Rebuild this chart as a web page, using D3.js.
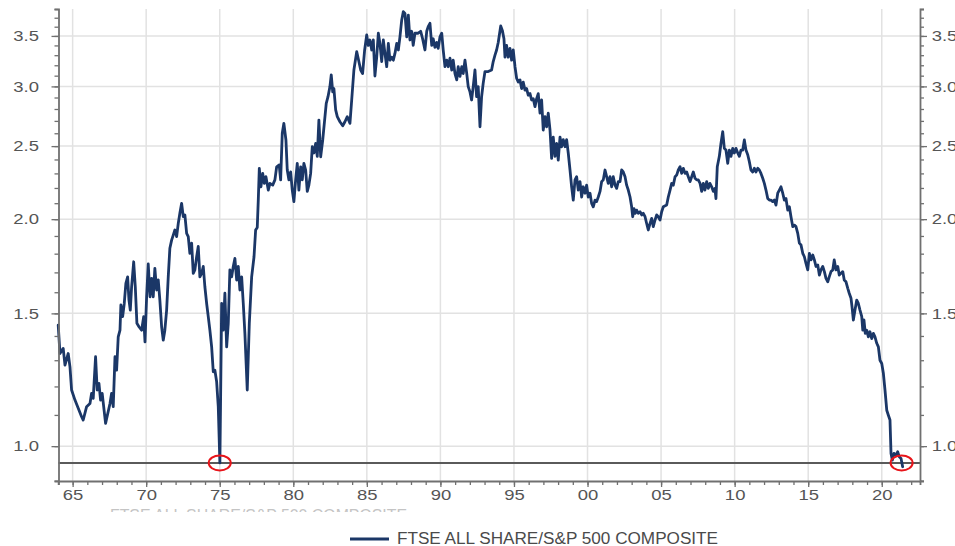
<!DOCTYPE html>
<html><head><meta charset="utf-8">
<script src="https://cdn.jsdelivr.net/npm/d3@7"></script>
<style>html,body{margin:0;padding:0;background:#fff;}svg{display:block;}</style>
</head><body>
<svg id="chart" width="955" height="546"></svg>
<script>
// ---- data ----
const dates = [
1964.02,1964.14,1964.36,1964.48,1964.70,1964.82,1964.93,1965.16,1965.61,1965.72,
1965.95,1966.18,1966.29,1966.40,1966.56,1966.67,1966.79,1966.90,1967.01,1967.24,
1967.54,1967.65,1967.76,1967.88,1967.99,1968.10,1968.22,1968.28,1968.40,1968.51,
1968.62,1968.74,1968.83,1968.92,1969.01,1969.15,1969.26,1969.37,1969.51,1969.69,
1969.83,1969.92,1970.03,1970.14,1970.26,1970.37,1970.48,1970.59,1970.71,1970.82,
1970.93,1971.05,1971.16,1971.27,1971.39,1971.50,1971.61,1971.73,1971.84,1971.95,
1972.07,1972.18,1972.29,1972.41,1972.52,1972.63,1972.75,1972.86,1972.97,1973.09,
1973.20,1973.31,1973.43,1973.54,1973.65,1973.77,1973.88,1973.99,1974.11,1974.22,
1974.33,1974.45,1974.56,1974.67,1974.79,1974.90,1975.01,1975.13,1975.24,1975.35,
1975.47,1975.58,1975.69,1975.81,1975.92,1976.03,1976.15,1976.26,1976.37,1976.49,
1976.60,1976.71,1976.87,1977.01,1977.17,1977.33,1977.44,1977.55,1977.62,1977.69,
1977.80,1977.92,1978.03,1978.14,1978.30,1978.41,1978.60,1978.75,1978.87,1979.04,
1979.14,1979.25,1979.36,1979.50,1979.59,1979.70,1979.82,1979.93,1980.04,1980.16,
1980.27,1980.38,1980.50,1980.61,1980.72,1980.84,1980.95,1981.06,1981.18,1981.29,
1981.40,1981.52,1981.63,1981.74,1981.86,1982.00,1982.13,1982.24,1982.36,1982.49,
1982.58,1982.68,1982.76,1982.88,1982.99,1983.17,1983.36,1983.51,1983.67,1983.85,
1983.97,1984.12,1984.31,1984.44,1984.58,1984.71,1984.85,1984.99,1985.10,1985.21,
1985.33,1985.44,1985.55,1985.67,1985.78,1985.89,1986.01,1986.12,1986.23,1986.35,
1986.46,1986.57,1986.69,1986.80,1986.91,1987.03,1987.14,1987.25,1987.37,1987.48,
1987.59,1987.71,1987.82,1987.93,1988.05,1988.15,1988.27,1988.49,1988.66,1988.79,
1988.95,1989.07,1989.17,1989.29,1989.41,1989.51,1989.63,1989.75,1989.85,1989.97,
1990.09,1990.19,1990.31,1990.43,1990.53,1990.65,1990.77,1990.87,1990.99,1991.11,
1991.21,1991.33,1991.45,1991.55,1991.67,1991.79,1991.89,1992.01,1992.12,1992.23,
1992.35,1992.46,1992.57,1992.69,1992.80,1992.91,1993.03,1993.25,1993.48,1993.59,
1993.71,1993.82,1993.93,1994.10,1994.21,1994.32,1994.39,1994.50,1994.61,1994.73,
1994.84,1994.95,1995.07,1995.18,1995.29,1995.41,1995.52,1995.63,1995.75,1995.86,
1995.97,1996.09,1996.20,1996.31,1996.43,1996.54,1996.65,1996.77,1996.88,1996.99,
1997.11,1997.22,1997.33,1997.45,1997.56,1997.67,1997.79,1997.90,1998.01,1998.13,
1998.24,1998.35,1998.47,1998.58,1998.69,1998.81,1998.92,1999.03,1999.15,1999.26,
1999.37,1999.49,1999.60,1999.71,1999.83,1999.94,2000.05,2000.17,2000.28,2000.39,
2000.51,2000.62,2000.73,2000.85,2000.96,2001.07,2001.19,2001.30,2001.41,2001.53,
2001.64,2001.75,2001.87,2001.98,2002.09,2002.21,2002.32,2002.43,2002.55,2002.66,
2002.77,2002.89,2003.00,2003.07,2003.16,2003.25,2003.34,2003.45,2003.57,2003.68,
2003.79,2003.91,2004.02,2004.13,2004.25,2004.36,2004.47,2004.59,2004.70,2004.81,
2004.93,2005.04,2005.15,2005.38,2005.49,2005.61,2005.72,2005.83,2005.95,2006.06,
2006.17,2006.29,2006.40,2006.51,2006.63,2006.74,2006.85,2006.97,2007.08,2007.19,
2007.31,2007.42,2007.53,2007.65,2007.76,2007.87,2007.98,2008.10,2008.21,2008.32,
2008.44,2008.55,2008.66,2008.73,2008.82,2008.96,2009.07,2009.19,2009.30,2009.41,
2009.53,2009.64,2009.75,2009.87,2009.98,2010.09,2010.21,2010.32,2010.43,2010.55,
2010.66,2010.77,2010.89,2011.00,2011.11,2011.23,2011.34,2011.45,2011.57,2011.68,
2011.79,2011.91,2012.02,2012.13,2012.25,2012.36,2012.47,2012.59,2012.70,2012.81,
2012.93,2013.04,2013.15,2013.27,2013.38,2013.49,2013.61,2013.72,2013.83,2013.95,
2014.06,2014.17,2014.29,2014.40,2014.51,2014.63,2014.74,2014.85,2014.97,2015.08,
2015.19,2015.31,2015.42,2015.53,2015.65,2015.76,2015.87,2015.99,2016.10,2016.21,
2016.33,2016.43,2016.55,2016.67,2016.77,2016.89,2017.01,2017.11,2017.23,2017.35,
2017.45,2017.57,2017.69,2017.79,2017.91,2017.98,2018.07,2018.18,2018.30,2018.41,
2018.52,2018.64,2018.71,2018.79,2018.88,2018.98,2019.09,2019.20,2019.32,2019.43,
2019.54,2019.66,2019.77,2019.88,2020.00,2020.11,2020.22,2020.34,2020.45,2020.56,
2020.63,2020.72,2020.83,2020.97,2021.08,2021.19,2021.31,2021.42
];
const ratio = [
1.447,1.327,1.348,1.281,1.327,1.274,1.187,1.151,1.094,1.083,
1.128,1.139,1.175,1.157,1.314,1.187,1.211,1.151,1.175,1.072,
1.139,1.175,1.128,1.314,1.261,1.396,1.425,1.539,1.485,1.546,
1.644,1.677,1.562,1.515,1.627,1.756,1.627,1.455,1.440,1.425,
1.485,1.375,1.578,1.744,1.578,1.669,1.578,1.721,1.611,1.661,
1.562,1.440,1.382,1.425,1.515,1.677,1.830,1.876,1.905,1.935,
1.896,1.974,2.036,2.099,2.016,2.026,1.915,1.896,1.802,1.859,
1.695,1.713,1.783,1.840,1.677,1.695,1.731,1.627,1.546,1.485,
1.425,1.354,1.255,1.261,1.217,1.128,0.950,1.546,1.425,1.595,
1.354,1.455,1.713,1.677,1.731,1.774,1.661,1.731,1.611,1.677,
1.546,1.411,1.187,1.455,1.677,1.783,1.935,1.950,2.120,2.336,
2.208,2.300,2.231,2.277,2.186,2.231,2.219,2.255,2.347,2.360,
2.255,2.600,2.680,2.547,2.324,2.255,2.310,2.186,2.110,2.255,
2.372,2.186,2.347,2.255,2.372,2.324,2.177,2.219,2.300,2.495,
2.448,2.520,2.423,2.707,2.420,2.547,2.707,2.849,2.907,2.998,
3.107,2.950,2.980,2.792,2.735,2.693,2.660,2.693,2.735,2.680,
2.878,3.154,3.336,3.250,3.154,3.120,3.353,3.510,3.400,3.457,
3.353,3.457,3.097,3.280,3.529,3.420,3.237,3.457,3.318,3.186,
3.420,3.250,3.280,3.250,3.318,3.420,3.353,3.490,3.675,3.770,
3.750,3.490,3.730,3.457,3.550,3.400,3.529,3.529,3.550,3.470,
3.353,3.550,3.600,3.638,3.400,3.470,3.380,3.430,3.370,3.490,
3.529,3.353,3.186,3.250,3.186,3.270,3.154,3.250,3.120,3.060,
3.186,3.093,3.186,3.120,3.250,3.120,2.998,2.950,2.878,2.998,
3.154,2.907,2.998,2.652,2.907,3.030,3.139,3.139,3.154,3.237,
3.300,3.353,3.430,3.608,3.560,3.470,3.280,3.400,3.280,3.370,
3.250,3.353,3.186,3.075,3.040,3.060,2.980,3.040,2.966,2.980,
2.920,2.935,2.878,2.890,2.820,2.890,2.935,2.765,2.878,2.626,
2.735,2.652,2.765,2.626,2.408,2.570,2.423,2.520,2.395,2.570,
2.495,2.550,2.495,2.550,2.448,2.324,2.208,2.120,2.255,2.277,
2.186,2.243,2.140,2.208,2.165,2.219,2.140,2.165,2.099,2.077,
2.120,2.110,2.140,2.177,2.243,2.255,2.324,2.277,2.231,2.277,
2.208,2.277,2.219,2.197,2.243,2.243,2.324,2.310,2.277,2.219,
2.186,2.140,2.077,2.015,2.066,2.036,2.056,2.036,2.046,2.026,
2.036,2.015,1.974,1.935,1.974,2.005,1.955,1.995,2.026,2.015,
1.995,2.046,2.077,2.088,2.140,2.186,2.231,2.219,2.277,2.288,
2.324,2.347,2.300,2.336,2.300,2.310,2.277,2.243,2.277,2.310,
2.266,2.255,2.255,2.231,2.177,2.231,2.186,2.243,2.197,2.231,
2.208,2.177,2.197,2.130,2.347,2.423,2.520,2.613,2.483,2.470,
2.372,2.470,2.423,2.483,2.448,2.483,2.448,2.423,2.470,2.470,
2.547,2.470,2.435,2.384,2.324,2.310,2.336,2.310,2.336,2.324,
2.300,2.266,2.231,2.186,2.130,2.120,2.120,2.110,2.120,2.088,
2.165,2.186,2.208,2.165,2.120,2.130,2.056,2.077,2.015,1.955,
1.964,1.955,1.915,1.859,1.849,1.802,1.783,1.747,1.713,1.802,
1.766,1.793,1.766,1.731,1.739,1.686,1.713,1.731,1.704,1.669,
1.652,1.677,1.704,1.713,1.766,1.713,1.731,1.686,1.695,1.704,
1.661,1.652,1.619,1.595,1.571,1.530,1.470,1.515,1.562,1.546,
1.515,1.485,1.425,1.470,1.411,1.425,1.396,1.418,1.389,1.411,
1.396,1.369,1.354,1.300,1.287,1.249,1.187,1.116,1.099,1.083,
0.978,0.958,0.978,0.973,0.983,0.968,0.963,0.939
];
const seriesName = "FTSE ALL SHARE/S&P 500 COMPOSITE";
const yTickValues = [1.0, 1.5, 2.0, 2.5, 3.0, 3.5];
const yTickLabels = ["1.0", "1.5", "2.0", "2.5", "3.0", "3.5"];
const xTickValues = [1965, 1970, 1975, 1980, 1985, 1990, 1995, 2000, 2005, 2010, 2015, 2020];
const xTickLabels = ["65", "70", "75", "80", "85", "90", "95", "00", "05", "10", "15", "20"];
const refLevel = 0.95;
const highlightDates = [1975.0, 2021.35];

// ---- layout / style ----
const L = 58.5, R = 920, T = 9, B = 481;
const axisColor = "#707070", gridColor = "#e2e2e2", labelColor = "#555";
const lineColor = "#1b3767";
const stretch = 1.32;

const svg = d3.select("#chart");
const x = d3.scaleLinear().domain([1964.04, 2022.6]).range([L, R]);
const y = d3.scaleLog().domain([0.899, 3.80]).range([B, T]);

const minorY = d3.range(9, 39).map(d => d / 10);
const minorX = d3.range(1964, 2023);

// gridlines
svg.append("g").selectAll("line").data(xTickValues).join("line")
  .attr("x1", d => x(d)).attr("x2", d => x(d)).attr("y1", T).attr("y2", B)
  .attr("stroke", gridColor).attr("stroke-width", 1.5);
svg.append("g").selectAll("line").data(yTickValues).join("line")
  .attr("x1", L).attr("x2", R).attr("y1", d => y(d)).attr("y2", d => y(d))
  .attr("stroke", gridColor).attr("stroke-width", 1.5);

// reference level
svg.append("line").attr("x1", L).attr("x2", R)
  .attr("y1", y(refLevel)).attr("y2", y(refLevel))
  .attr("stroke", "#5a5a5a").attr("stroke-width", 2);

// series
const n = Math.min(dates.length, ratio.length);
const pts = d3.range(n).map(i => [dates[i], ratio[i]]);
svg.append("path").datum(pts)
  .attr("fill", "none").attr("stroke", lineColor).attr("stroke-width", 2.8)
  .attr("stroke-linejoin", "round").attr("stroke-linecap", "round")
  .attr("d", d3.line().x(d => x(d[0])).y(d => y(d[1])));

// axes
function styleAxis(g) {
  g.select(".domain").attr("stroke", axisColor).attr("stroke-width", 1.8);
  g.selectAll(".tick line").attr("stroke", axisColor).attr("stroke-width", 1.3);
}
// minor ticks
svg.append("g").attr("transform", `translate(${L},0)`)
  .call(d3.axisLeft(y).tickValues(minorY).tickSize(4).tickFormat(""))
  .call(styleAxis);
svg.append("g").attr("transform", `translate(${R},0)`)
  .call(d3.axisRight(y).tickValues(minorY).tickSize(4).tickFormat(""))
  .call(styleAxis);
svg.append("g").attr("transform", `translate(0,${B})`)
  .call(d3.axisBottom(x).tickValues(minorX).tickSize(4).tickFormat(""))
  .call(styleAxis);
// major ticks + labels
const fmtY = d => yTickLabels[yTickValues.indexOf(d)];
const fmtX = d => xTickLabels[xTickValues.indexOf(d)];
const yl = svg.append("g").attr("transform", `translate(${L},0)`)
  .call(d3.axisLeft(y).tickValues(yTickValues).tickSize(7).tickFormat(fmtY))
  .call(styleAxis);
yl.select(".domain").remove();
yl.selectAll("text").attr("x", -19.5 / stretch).attr("dy", "0.34em")
  .attr("transform", `scale(${stretch},1)`);
const yr = svg.append("g").attr("transform", `translate(${R},0)`)
  .call(d3.axisRight(y).tickValues(yTickValues).tickSize(7).tickFormat(fmtY))
  .call(styleAxis);
yr.select(".domain").remove();
yr.selectAll("text").attr("x", 11.7 / stretch).attr("dy", "0.34em")
  .attr("transform", `scale(${stretch},1)`);
const xb = svg.append("g").attr("transform", `translate(0,${B})`)
  .call(d3.axisBottom(x).tickValues(xTickValues).tickSize(6).tickFormat(fmtX))
  .call(styleAxis);
xb.select(".domain").remove();
xb.selectAll("text").attr("y", 19).attr("dy", 0)
  .attr("transform", `scale(${stretch},1)`);
svg.selectAll(".tick text")
  .attr("fill", labelColor).style("font-family", "'Liberation Sans', Arial, sans-serif")
  .style("font-size", "14px");

// highlight circles
svg.append("g").selectAll("ellipse").data(highlightDates).join("ellipse")
  .attr("cx", d => x(d)).attr("cy", y(refLevel)).attr("rx", 11).attr("ry", 7.5)
  .attr("fill", "none").attr("stroke", "#e8141a").attr("stroke-width", 2);

// ghost (clipped) title below the axis
svg.append("clipPath").attr("id", "ghostclip").append("rect")
  .attr("x", 0).attr("y", 505).attr("width", 955).attr("height", 7);
svg.append("text").attr("clip-path", "url(#ghostclip)")
  .attr("x", 110).attr("y", 521).attr("textLength", 297).attr("lengthAdjust", "spacingAndGlyphs")
  .attr("fill", "#c4c4c4").style("font-family", "'Liberation Sans', Arial, sans-serif")
  .style("font-size", "16px").text(seriesName);

// legend
svg.append("line").attr("x1", 350).attr("x2", 389).attr("y1", 539).attr("y2", 539)
  .attr("stroke", lineColor).attr("stroke-width", 3);
svg.append("text").attr("x", 397).attr("y", 543.5)
  .attr("textLength", 321).attr("lengthAdjust", "spacingAndGlyphs")
  .attr("fill", "#4a4a4a").style("font-family", "'Liberation Sans', Arial, sans-serif")
  .style("font-size", "16px").text(seriesName);
</script>
</body></html>
